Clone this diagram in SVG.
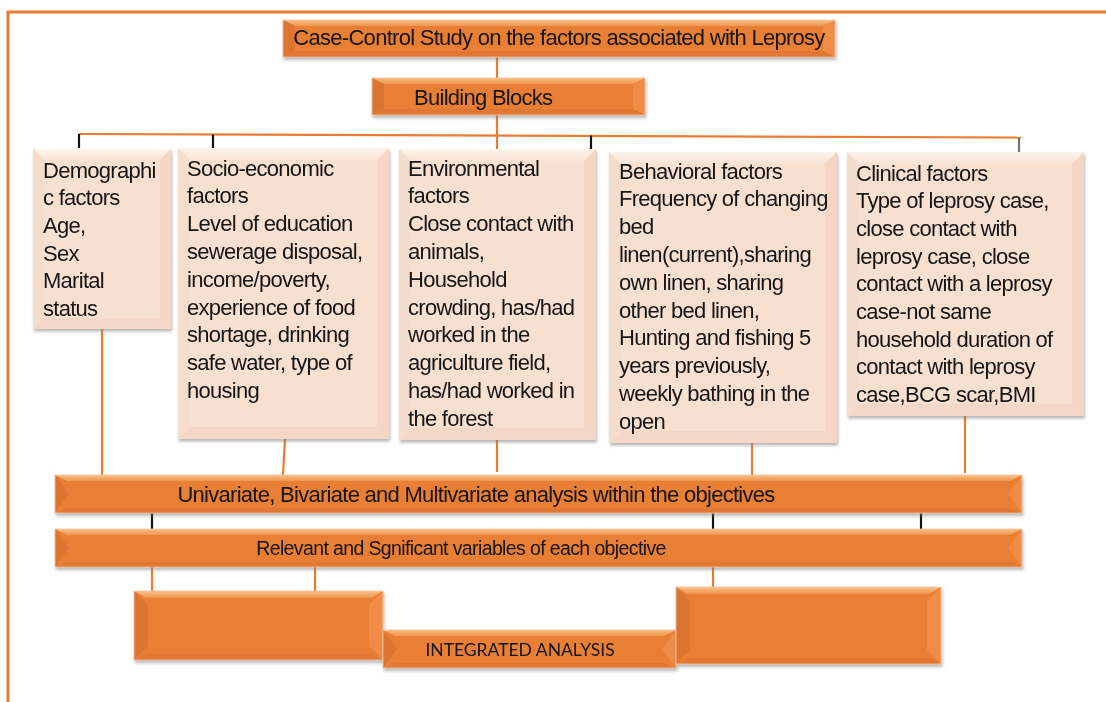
<svg xmlns="http://www.w3.org/2000/svg" width="1106" height="702" viewBox="0 0 1106 702">
  <defs>
    <filter id="shadow" x="-5%" y="-10%" width="110%" height="130%">
      <feDropShadow dx="1" dy="2.5" stdDeviation="1.6" flood-color="#7a7a7a" flood-opacity="0.55"/>
    </filter>
    <linearGradient id="orTop" x1="0" y1="0" x2="0" y2="1">
      <stop offset="0" stop-color="#fbbf84"/>
      <stop offset="1" stop-color="#ee9650"/>
    </linearGradient>
    <linearGradient id="peTop" x1="0" y1="0" x2="0" y2="1">
      <stop offset="0" stop-color="#fff3ea"/>
      <stop offset="1" stop-color="#f9e3d5"/>
    </linearGradient>
  </defs>
  <style>
    .frame { fill: none; stroke: #ea7b32; stroke-width: 3; }
    .link { fill: none; stroke: #ea7b32; stroke-width: 2.2; }
    .tick { fill: none; stroke: #111; stroke-width: 2.2; }
    .tickg { fill: none; stroke: #6b7380; stroke-width: 2.2; }
    .or-face { fill: #e97f36; }
    .or-top { fill: url(#orTop); }
    .or-left { fill: #dd7430; }
    .or-right { fill: #f08c45; }
    .or-bot { fill: #e07732; }
    .pe-face { fill: #f8e0d1; }
    .pe-top { fill: url(#peTop); }
    .pe-left { fill: #f6dccc; }
    .pe-right { fill: #f3d6c4; }
    .pe-bot { fill: #f4d7c6; }
    .edge { fill: none; stroke: #f4c6a6; stroke-width: 0.8; }
    text { font-family: "Liberation Sans", Arial, sans-serif; fill: #141414; }
    .t20 { font-size: 22px; letter-spacing: -0.72px; }
    .t18 { font-size: 19.5px; letter-spacing: -0.62px; }
    .cal { font-family: Lato, "Liberation Sans", sans-serif; font-size: 17.5px; }
  </style>

  <!-- outer frame: left and top rules -->
  <path class="frame" d="M8,702 V12 H1106"/>

  <!-- connectors -->
  <g id="connectors">
    <path class="link" d="M497,57 V78"/>
    <path class="link" d="M497,115 V134"/>
    <path class="link" d="M79,134 L1021,137.5"/>
    <path class="link" d="M497,134 V149"/>
    <path class="tick" d="M79,134 V148"/>
    <path class="tick" d="M213,134.5 V148"/>
    <path class="tick" d="M591,135.5 V152"/>
    <path class="tickg" d="M1019,137.5 V152"/>
    <path class="link" d="M102,329 V475"/>
    <path class="link" d="M285,439 L283,475"/>
    <path class="link" d="M497,440 V472"/>
    <path class="link" d="M752,443 V476"/>
    <path class="link" d="M965,416 V473"/>
    <path class="tick" d="M152,513 V529"/>
    <path class="tick" d="M713,513 V529"/>
    <path class="tick" d="M921,513 V529"/>
    <path class="link" d="M152,567 V591"/>
    <path class="link" d="M315,567 V591"/>
    <path class="link" d="M713,567 V587"/>
  </g>

  <!-- title -->
  <g id="title" filter="url(#shadow)">
    <rect class="or-face" x="283" y="20" width="552" height="37"/>
    <polygon class="or-top" points="283,20 835,20 823,26 295,26"/>
    <polygon class="or-left" points="283,20 295,26 295,51 283,57"/>
    <polygon class="or-right" points="835,20 823,26 823,51 835,57"/>
    <polygon class="or-bot" points="283,57 295,51 823,51 835,57"/>
    <rect class="edge" x="283" y="20" width="552" height="37"/>
    <text class="t20" x="559" y="45" text-anchor="middle">Case-Control Study on the factors associated with Leprosy</text>
  </g>

  <g id="building-blocks" filter="url(#shadow)">
    <rect class="or-face" x="372" y="78" width="273" height="37"/>
    <polygon class="or-top" points="372,78 645,78 633,84 384,84"/>
    <polygon class="or-left" points="372,78 384,84 384,109 372,115"/>
    <polygon class="or-right" points="645,78 633,84 633,109 645,115"/>
    <polygon class="or-bot" points="372,115 384,109 633,109 645,115"/>
    <rect class="edge" x="372" y="78" width="273" height="37"/>
    <text class="t20" x="414" y="104.5">Building Blocks</text>
  </g>

  <!-- factor boxes -->
  <g id="demographic" filter="url(#shadow)">
    <rect class="pe-face" x="33" y="149" width="138" height="180"/>
    <polygon class="pe-top" points="33,149 171,149 160,160 44,160"/>
    <polygon class="pe-left" points="33,149 44,160 44,318 33,329"/>
    <polygon class="pe-right" points="171,149 160,160 160,318 171,329"/>
    <polygon class="pe-bot" points="33,329 44,318 160,318 171,329"/>
    <text class="t20">
      <tspan x="43" y="177.5">Demographi</tspan>
      <tspan x="43" y="205.2">c factors</tspan>
      <tspan x="43" y="232.9">Age,</tspan>
      <tspan x="43" y="260.6">Sex</tspan>
      <tspan x="43" y="288.3">Marital</tspan>
      <tspan x="43" y="316">status</tspan>
    </text>
  </g>

  <g id="socio-economic" filter="url(#shadow)">
    <rect class="pe-face" x="178" y="148" width="211" height="291"/>
    <polygon class="pe-top" points="178,148 389,148 377,160 190,160"/>
    <polygon class="pe-left" points="178,148 190,160 190,427 178,439"/>
    <polygon class="pe-right" points="389,148 377,160 377,427 389,439"/>
    <polygon class="pe-bot" points="178,439 190,427 377,427 389,439"/>
    <text class="t20">
      <tspan x="187" y="175.5">Socio-economic</tspan>
      <tspan x="187" y="203.3">factors</tspan>
      <tspan x="187" y="231.1">Level of education</tspan>
      <tspan x="187" y="258.9">sewerage disposal,</tspan>
      <tspan x="187" y="286.7">income/poverty,</tspan>
      <tspan x="187" y="314.5">experience of food</tspan>
      <tspan x="187" y="342.3">shortage, drinking</tspan>
      <tspan x="187" y="370.1">safe water, type of</tspan>
      <tspan x="187" y="397.9">housing</tspan>
    </text>
  </g>

  <g id="environmental" filter="url(#shadow)">
    <rect class="pe-face" x="399" y="149" width="197" height="291"/>
    <polygon class="pe-top" points="399,149 596,149 584,161 411,161"/>
    <polygon class="pe-left" points="399,149 411,161 411,428 399,440"/>
    <polygon class="pe-right" points="596,149 584,161 584,428 596,440"/>
    <polygon class="pe-bot" points="399,440 411,428 584,428 596,440"/>
    <text class="t20">
      <tspan x="408" y="175.5">Environmental</tspan>
      <tspan x="408" y="203.3">factors</tspan>
      <tspan x="408" y="231.1">Close contact with</tspan>
      <tspan x="408" y="258.9">animals,</tspan>
      <tspan x="408" y="286.7">Household</tspan>
      <tspan x="408" y="314.5">crowding, has/had</tspan>
      <tspan x="408" y="342.3">worked in the</tspan>
      <tspan x="408" y="370.1">agriculture field,</tspan>
      <tspan x="408" y="397.9">has/had worked in</tspan>
      <tspan x="408" y="425.7">the forest</tspan>
    </text>
  </g>

  <g id="behavioral" filter="url(#shadow)">
    <rect class="pe-face" x="609" y="152" width="228" height="291"/>
    <polygon class="pe-top" points="609,152 837,152 825,164 621,164"/>
    <polygon class="pe-left" points="609,152 621,164 621,431 609,443"/>
    <polygon class="pe-right" points="837,152 825,164 825,431 837,443"/>
    <polygon class="pe-bot" points="609,443 621,431 825,431 837,443"/>
    <text class="t20">
      <tspan x="619" y="178.5">Behavioral factors</tspan>
      <tspan x="619" y="206.3">Frequency of changing</tspan>
      <tspan x="619" y="234.1">bed</tspan>
      <tspan x="619" y="261.9">linen(current),sharing</tspan>
      <tspan x="619" y="289.7">own linen, sharing</tspan>
      <tspan x="619" y="317.5">other bed linen,</tspan>
      <tspan x="619" y="345.3">Hunting and fishing 5</tspan>
      <tspan x="619" y="373.1">years previously,</tspan>
      <tspan x="619" y="400.9">weekly bathing in the</tspan>
      <tspan x="619" y="428.7">open</tspan>
    </text>
  </g>

  <g id="clinical" filter="url(#shadow)">
    <rect class="pe-face" x="847" y="152" width="237" height="264"/>
    <polygon class="pe-top" points="847,152 1084,152 1072,164 859,164"/>
    <polygon class="pe-left" points="847,152 859,164 859,404 847,416"/>
    <polygon class="pe-right" points="1084,152 1072,164 1072,404 1084,416"/>
    <polygon class="pe-bot" points="847,416 859,404 1072,404 1084,416"/>
    <text class="t20">
      <tspan x="856" y="180.5">Clinical factors</tspan>
      <tspan x="856" y="208.2">Type of leprosy case,</tspan>
      <tspan x="856" y="235.9">close contact with</tspan>
      <tspan x="856" y="263.6">leprosy case, close</tspan>
      <tspan x="856" y="291.3">contact with a leprosy</tspan>
      <tspan x="856" y="319">case-not same</tspan>
      <tspan x="856" y="346.7">household duration of</tspan>
      <tspan x="856" y="374.4">contact with leprosy</tspan>
      <tspan x="856" y="402.1">case,BCG scar,BMI</tspan>
    </text>
  </g>

  <!-- analysis bars -->
  <g id="univariate" filter="url(#shadow)">
    <rect class="or-face" x="55" y="475" width="967" height="38"/>
    <polygon class="or-top" points="55,475 1022,475 1010,481 67,481"/>
    <polygon class="or-left" points="55,475 69,494 55,513"/>
    <polygon class="or-right" points="1022,475 1008,494 1022,513"/>
    <polygon class="or-bot" points="55,513 67,508 1010,508 1022,513"/>
    <rect class="edge" x="55" y="475" width="967" height="38"/>
    <text class="t20" x="476" y="501.5" text-anchor="middle">Univariate, Bivariate and Multivariate analysis within the objectives</text>
  </g>

  <g id="relevant" filter="url(#shadow)">
    <rect class="or-face" x="55" y="529" width="967" height="38"/>
    <polygon class="or-top" points="55,529 1022,529 1010,535 67,535"/>
    <polygon class="or-left" points="55,529 69,548 55,567"/>
    <polygon class="or-right" points="1022,529 1008,548 1022,567"/>
    <polygon class="or-bot" points="55,567 67,562 1010,562 1022,567"/>
    <rect class="edge" x="55" y="529" width="967" height="38"/>
    <text class="t18" x="461" y="555" text-anchor="middle">Relevant and Sgnificant variables of each objective</text>
  </g>

  <!-- integrated analysis -->
  <g id="integrated-left" filter="url(#shadow)">
    <rect class="or-face" x="134" y="591" width="249" height="69"/>
    <polygon class="or-top" points="134,591 383,591 371,598 146,598"/>
    <polygon class="or-left" points="134,591 148,605 148,646 134,660"/>
    <polygon class="or-right" points="383,591 369,605 369,646 383,660"/>
    <polygon class="or-bot" points="134,660 146,654 371,654 383,660"/>
    <rect class="edge" x="134" y="591" width="249" height="69"/>
  </g>

  <g id="integrated-analysis" filter="url(#shadow)">
    <rect class="or-face" x="383" y="630" width="293" height="38"/>
    <polygon class="or-top" points="383,630 676,630 664,636 395,636"/>
    <polygon class="or-left" points="383,630 397,649 383,668"/>
    <polygon class="or-right" points="676,630 662,649 676,668"/>
    <polygon class="or-bot" points="383,668 395,663 664,663 676,668"/>
    <rect class="edge" x="383" y="630" width="293" height="38"/>
    <text class="cal" x="520" y="656" text-anchor="middle">INTEGRATED ANALYSIS</text>
  </g>

  <g id="integrated-right" filter="url(#shadow)">
    <rect class="or-face" x="676" y="587" width="265" height="77"/>
    <polygon class="or-top" points="676,587 941,587 929,594 688,594"/>
    <polygon class="or-left" points="676,587 690,601 690,650 676,664"/>
    <polygon class="or-right" points="941,587 927,601 927,650 941,664"/>
    <polygon class="or-bot" points="676,664 688,658 929,658 941,664"/>
    <rect class="edge" x="676" y="587" width="265" height="77"/>
  </g>
</svg>
